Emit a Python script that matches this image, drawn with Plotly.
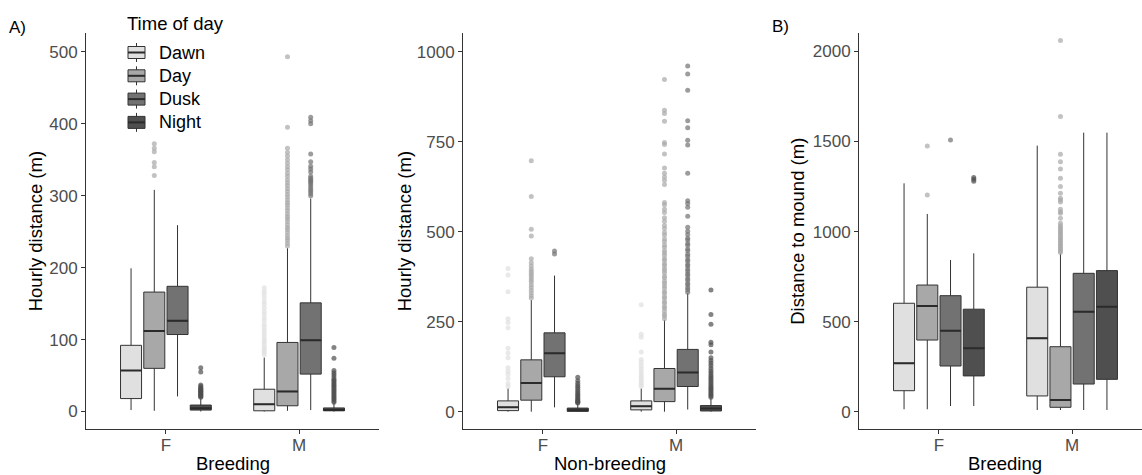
import plotly.graph_objects as go

W, H = 1142, 475

times = ["Dawn", "Day", "Dusk", "Night"]
sexes = ["F", "M"]

fills = {"Dawn": "#E0E0E0", "Day": "#A8A8A8", "Dusk": "#727272", "Night": "#4F4F4F"}
dots = {"Dawn": "rgba(224,224,224,0.7)", "Day": "rgba(168,168,168,0.7)",
        "Dusk": "rgba(114,114,114,0.7)", "Night": "rgba(79,79,79,0.7)"}

# ---- A) Breeding: hourly distance (m) ----
# per time of day: [F, M]
br_q1 = {"Dawn": [18, 1], "Day": [60, 8], "Dusk": [107, 52], "Night": [2, 1]}
br_med = {"Dawn": [57, 10], "Day": [112, 28], "Dusk": [126, 99], "Night": [4.5, 2]}
br_q3 = {"Dawn": [92, 31], "Day": [166, 96], "Dusk": [174, 151], "Night": [9, 5]}
br_lo = {"Dawn": [2, 0], "Day": [1, 1], "Dusk": [21, 2], "Night": [0, 0]}
br_hi = {"Dawn": [199, 75], "Day": [308, 227], "Dusk": [259, 296], "Night": [18, 12]}
br_out = {
    "Dawn": ([], [79, 82, 85, 88, 91, 95, 98, 101, 105, 109, 113, 117, 121, 126, 130,
                  135, 139, 144, 149, 153, 158, 163, 167, 172]),
    "Day": ([328, 340, 346, 361, 366, 372],
            [230, 234, 238, 241, 245, 249, 253, 256, 260, 264, 268, 271, 275, 279, 283,
             287, 290, 294, 298, 302, 306, 310, 314, 318, 322, 327, 331, 336, 340, 345,
             350, 355, 360, 366, 395, 493]),
    "Dusk": ([], [300, 303, 306, 309, 312, 315, 318, 320, 322, 324, 327, 333, 337, 341,
                  347, 358, 400, 404, 409]),
    "Night": ([20, 21, 22, 23, 24, 25, 26, 27, 28, 29, 30, 31, 32, 33, 35, 37, 55, 61],
              [13, 15, 17, 19, 21, 23, 25, 27, 29, 31, 33, 35, 37, 39, 41, 43, 45, 48,
               51, 54, 57, 74, 89]),
}

# ---- Non-breeding: hourly distance (m) ----
nb_q1 = {"Dawn": [3, 5], "Day": [32, 28], "Dusk": [97, 70], "Night": [1, 2]}
nb_med = {"Dawn": [12, 15], "Day": [80, 64], "Dusk": [162, 109], "Night": [4, 9]}
nb_q3 = {"Dawn": [30, 30], "Day": [144, 120], "Dusk": [219, 173], "Night": [10, 17]}
nb_lo = {"Dawn": [0, 0], "Day": [0, 0], "Dusk": [12, 6], "Night": [0, 0]}
nb_hi = {"Dawn": [65, 65], "Day": [310, 255], "Dusk": [378, 329], "Night": [22, 38]}
nb_out = {
    "Dawn": ([70, 78, 92, 104, 112, 122, 150, 163, 176, 233, 248, 258, 333, 380, 398],
             [70, 76, 82, 88, 94, 100, 107, 114, 121, 129, 137, 145, 166, 207, 215, 297]),
    "Day": ([316, 322, 330, 337, 345, 352, 360, 366, 372, 378, 384, 390, 396, 405, 414,
             425, 488, 507, 598, 697],
            [258, 266, 271, 279, 287, 292, 301, 306, 315, 320, 329, 334, 343, 349, 357,
             362, 371, 376, 385, 392, 398, 406, 411, 420, 425, 434, 441, 447, 457, 463,
             473, 480, 491, 498, 509, 517, 529, 539, 553, 562, 575, 581, 631, 643, 652,
             662, 677, 716, 742, 748, 807, 828, 837, 923]),
    "Dusk": ([438, 446],
             [332, 339, 344, 352, 357, 365, 370, 378, 383, 391, 396, 405, 409, 418, 423,
              432, 437, 447, 452, 462, 467, 477, 482, 492, 501, 512, 543, 568, 578, 586,
              662, 741, 754, 789, 808, 893, 938, 960]),
    "Night": ([24, 26, 28, 30, 33, 36, 40, 44, 48, 52, 57, 62, 68, 73, 79, 86, 96],
              [40, 44, 48, 52, 56, 60, 64, 68, 72, 77, 82, 87, 92, 97, 102, 108, 114,
               121, 128, 135, 142, 150, 166, 186, 193, 243, 270, 338]),
}

# ---- B) Breeding: distance to mound (m) ----
dm_q1 = {"Dawn": [118, 89], "Day": [399, 26], "Dusk": [255, 155], "Night": [200, 181]}
dm_med = {"Dawn": [270, 409], "Day": [588, 66], "Dusk": [451, 556], "Night": [353, 584]}
dm_q3 = {"Dawn": [603, 692], "Day": [704, 362], "Dusk": [645, 769], "Night": [570, 784]}
dm_lo = {"Dawn": [15, 11], "Day": [15, 11], "Dusk": [33, 11], "Night": [33, 11]}
dm_hi = {"Dawn": [1268, 1477], "Day": [1098, 880], "Dusk": [843, 1549], "Night": [880, 1549]}
dm_out = {
    "Dawn": ([], []),
    "Day": ([1203, 1475],
            [884, 893, 902, 911, 920, 929, 938, 948, 957, 966, 975, 985, 994, 1004, 1013,
             1023, 1033, 1047, 1074, 1102, 1110, 1124, 1165, 1176, 1185, 1213, 1250,
             1296, 1348, 1388, 1429, 1638, 2060]),
    "Dusk": ([1508], []),
    "Night": ([1280, 1290, 1300], []),
}

panels = [
    dict(ax="", q1=br_q1, med=br_med, q3=br_q3, lo=br_lo, hi=br_hi, out=br_out,
         yrange=[-24.7, 525.6], ytick=[0, 100, 200, 300, 400, 500],
         xdom=[86, 379], xrange=[-0.6, 1.6], xtitle="Breeding", xtc=232.5,
         ytitle="Hourly distance (m)", ytx=35),
    dict(ax="2", q1=nb_q1, med=nb_med, q3=nb_q3, lo=nb_lo, hi=nb_hi, out=nb_out,
         yrange=[-48.9, 1051], ytick=[0, 250, 500, 750, 1000],
         xdom=[463, 756], xrange=[-0.6, 1.6], xtitle="Non-breeding", xtc=609.5,
         ytitle="Hourly distance (m)", ytx=404),
    dict(ax="3", q1=dm_q1, med=dm_med, q3=dm_q3, lo=dm_lo, hi=dm_hi, out=dm_out,
         yrange=[-96, 2100], ytick=[0, 500, 1000, 1500, 2000],
         xdom=[859, 1142], xrange=[-0.6, 1.525], xtitle="Breeding", xtc=1005.5,
         ytitle="Distance to mound (m)", ytx=797.5),
]

FONT = "Liberation Sans, Arial, sans-serif"
LINE = "#333333"
TICK_COL = "#4D4D4D"
Y_TOP, Y_BOT = 33.3, 429.3

fig = go.Figure()

for i, p in enumerate(panels):
    xa, ya = "x" + p["ax"], "y" + p["ax"]
    for t in times:
        # main box: quartiles + whiskers
        fig.add_trace(go.Box(
            x=sexes, q1=p["q1"][t], median=p["med"][t], q3=p["q3"][t],
            lowerfence=p["lo"][t], upperfence=p["hi"][t],
            orientation="v", xaxis=xa, yaxis=ya, offsetgroup=t, name=t,
            fillcolor=fills[t], line=dict(color=LINE, width=1),
            whiskerwidth=0, boxpoints=False, hoverinfo="skip",
        ))
        # heavier median bar
        fig.add_trace(go.Box(
            x=sexes, q1=p["med"][t], median=p["med"][t], q3=p["med"][t],
            lowerfence=p["med"][t], upperfence=p["med"][t],
            orientation="v", xaxis=xa, yaxis=ya, offsetgroup=t, name=t,
            fillcolor="rgba(0,0,0,0)", line=dict(color="#2b2b2b", width=2),
            whiskerwidth=0, boxpoints=False, hoverinfo="skip",
        ))
        # outlying observations
        fo, mo = p["out"][t]
        if fo or mo:
            fig.add_trace(go.Box(
                x=["F"] * len(fo) + ["M"] * len(mo), y=list(fo) + list(mo),
                orientation="v", xaxis=xa, yaxis=ya, offsetgroup=t, name=t,
                boxpoints="all", jitter=0, pointpos=0,
                fillcolor="rgba(0,0,0,0)", line=dict(color="rgba(0,0,0,0)", width=0),
                marker=dict(color=dots[t], size=5, line=dict(width=0)),
                whiskerwidth=0, hoverinfo="skip",
            ))

    axis_common = dict(showline=True, linecolor=LINE, linewidth=1, ticks="outside",
                       ticklen=4, tickwidth=1, tickcolor=LINE, showgrid=False,
                       zeroline=False, automargin=False,
                       tickfont=dict(family=FONT, size=17, color=TICK_COL))
    fig.update_layout(**{
        "xaxis" + p["ax"]: dict(axis_common, type="category",
                                categoryorder="array", categoryarray=sexes,
                                domain=[p["xdom"][0] / W, p["xdom"][1] / W],
                                range=p["xrange"], anchor=ya, ticklabelstandoff=-4),
        "yaxis" + p["ax"]: dict(axis_common, range=p["yrange"],
                                tickvals=p["ytick"],
                                domain=[1 - Y_BOT / H, 1 - Y_TOP / H], anchor=xa),
    })
    # axis titles
    fig.add_annotation(text=p["xtitle"], xref="paper", yref="paper",
                       x=p["xtc"] / W, y=1 - 463 / H, showarrow=False,
                       xanchor="center", yanchor="middle",
                       font=dict(family=FONT, size=18.5, color="black"))
    fig.add_annotation(text=p["ytitle"], xref="paper", yref="paper",
                       x=p["ytx"] / W, y=1 - (Y_TOP + Y_BOT) / 2 / H, textangle=-90,
                       showarrow=False, xanchor="center", yanchor="middle",
                       font=dict(family=FONT, size=18.5, color="black"))

for lab, px, py in [("A)", 17, 27), ("B)", 780, 26)]:
    fig.add_annotation(text=lab, xref="paper", yref="paper", x=px / W, y=1 - py / H,
                       showarrow=False, xanchor="center", yanchor="middle",
                       font=dict(family=FONT, size=17, color="black"))

# legend: boxplot keys with labels
fig.add_annotation(text="Time of day", xref="paper", yref="paper", x=125 / W,
                   y=1 - 24 / H, showarrow=False, xanchor="left", yanchor="middle",
                   font=dict(family=FONT, size=18.5, color="black"))
key_x0, key_x1 = 128, 145
key_mid = (key_x0 + key_x1) / 2
for k, t in enumerate(times):
    cy = 52.5 + 23.3 * k
    top, bot = cy - 6, cy + 6
    px = lambda v: v / W
    py = lambda v: 1 - v / H
    fig.add_shape(type="line", xref="paper", yref="paper", x0=px(key_mid), x1=px(key_mid),
                  y0=py(cy - 9.5), y1=py(cy + 9.5), line=dict(color=LINE, width=1))
    fig.add_shape(type="rect", xref="paper", yref="paper", x0=px(key_x0), x1=px(key_x1),
                  y0=py(bot), y1=py(top), fillcolor=fills[t], line=dict(color=LINE, width=1))
    fig.add_shape(type="line", xref="paper", yref="paper", x0=px(key_x0), x1=px(key_x1),
                  y0=py(cy), y1=py(cy), line=dict(color="#2b2b2b", width=2))
    fig.add_annotation(text=t, xref="paper", yref="paper", x=px(157), y=py(cy),
                       showarrow=False, xanchor="left", yanchor="middle",
                       font=dict(family=FONT, size=18, color="black"))

fig.update_layout(
    width=W, height=H,
    margin=dict(l=0, r=0, t=0, b=0),
    paper_bgcolor="white", plot_bgcolor="white",
    boxmode="group", boxgap=0.302, boxgroupgap=0.095,
    showlegend=False,
)

fig.write_html("out.html")
